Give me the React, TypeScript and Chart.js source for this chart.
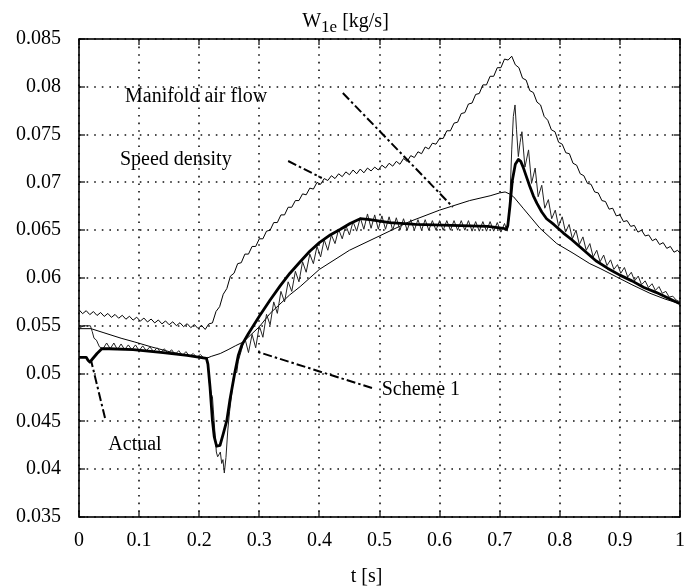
import React, { useEffect, useRef } from 'react';
import { Chart, registerables } from 'chart.js';

Chart.register(...registerables);

// ---------------- axis ticks ----------------
const xTicks = [0, 0.1, 0.2, 0.3, 0.4, 0.5, 0.6, 0.7, 0.8, 0.9, 1];
const xTickLabels = ['0', '0.1', '0.2', '0.3', '0.4', '0.5', '0.6', '0.7', '0.8', '0.9', '1'];
const yTicks = [0.035, 0.04, 0.045, 0.05, 0.055, 0.06, 0.065, 0.07, 0.075, 0.08, 0.085];
const yTickLabels = ['0.035', '0.04', '0.045', '0.05', '0.055', '0.06', '0.065', '0.07', '0.075', '0.08', '0.085'];

// ---------------- series ----------------
// Speed density: sampled every 0.006 s (last sample at t = 1)
const speedDensityStep = 0.006;
const speedDensity = [
  0.05668, 0.05627, 0.05658, 0.05617, 0.05649, 0.05608, 0.05639, 0.05598, 0.05629, 0.05588,
  0.05619, 0.05579, 0.05610, 0.05569, 0.05600, 0.05559, 0.05590, 0.05549, 0.05581, 0.05540,
  0.05571, 0.05530, 0.05561, 0.05520, 0.05551, 0.05511, 0.05542, 0.05501, 0.05532, 0.05491,
  0.05522, 0.05481, 0.05513, 0.05472, 0.05503, 0.05462,
  0.0552, 0.0553, 0.0565, 0.0570, 0.0583, 0.0589, 0.0602, 0.0605, 0.0615, 0.0616,
  0.0625, 0.0625, 0.0633, 0.0633, 0.0641, 0.0641, 0.0649, 0.0650, 0.0658, 0.0658,
  0.0666, 0.0666, 0.0674, 0.0674, 0.0681, 0.0681, 0.0688, 0.0687, 0.0694, 0.0693,
  0.0700, 0.0698, 0.0704, 0.0702, 0.0707, 0.0704, 0.0709, 0.0706, 0.0711, 0.0708,
  0.0713, 0.0709, 0.0714, 0.0710, 0.0715, 0.0712, 0.0716, 0.0713, 0.0718, 0.0715,
  0.0720, 0.0717, 0.0722, 0.0719, 0.0725, 0.0722, 0.0728, 0.0726, 0.0732, 0.0730,
  0.0737, 0.0735, 0.0741, 0.0740, 0.0746, 0.0746, 0.0754, 0.0754, 0.0762, 0.0763,
  0.0772, 0.0773, 0.0782, 0.0783, 0.0792, 0.0793, 0.0802, 0.0802, 0.0811, 0.0811,
  0.0820, 0.0820, 0.0829, 0.0828, 0.0832, 0.0823, 0.0820, 0.0809, 0.0807, 0.0796,
  0.0794, 0.0784, 0.0781, 0.0769, 0.0765, 0.0755, 0.0753, 0.0742, 0.0740, 0.0731,
  0.0730, 0.0720, 0.0718, 0.0709, 0.0707, 0.0699, 0.0698, 0.0690, 0.0689, 0.0681,
  0.0680, 0.0672, 0.0673, 0.0665, 0.0666, 0.0659, 0.0660, 0.0654, 0.0655, 0.0648,
  0.0650, 0.0644, 0.0645, 0.0639, 0.0641, 0.0635, 0.0637, 0.0631, 0.0633, 0.0627,
  0.0629, 0.0626,
];

// Manifold air flow [t, W]
const manifoldAirFlow: [number, number][] = [
  [0, 0.0547], [0.02, 0.0547], [0.04, 0.0543], [0.07, 0.0537], [0.093, 0.0533], [0.12, 0.0528],
  [0.15, 0.0523], [0.18, 0.0519], [0.2, 0.0517], [0.212, 0.0516], [0.22, 0.0518], [0.235, 0.0521],
  [0.248, 0.0525], [0.26, 0.0529], [0.273, 0.0533], [0.285, 0.054], [0.3, 0.0549], [0.318, 0.0563],
  [0.35, 0.0582], [0.368, 0.0591], [0.4, 0.0609], [0.45, 0.0629], [0.5, 0.0644], [0.55, 0.0659],
  [0.6, 0.0671], [0.62, 0.0675], [0.65, 0.0681], [0.684, 0.0686], [0.7, 0.0689], [0.709, 0.069],
  [0.716, 0.0688], [0.723, 0.0685], [0.739, 0.0673], [0.767, 0.0652], [0.795, 0.0636], [0.822, 0.0626],
  [0.85, 0.0615], [0.867, 0.061], [0.895, 0.0601], [0.92, 0.0593], [0.95, 0.0584], [0.975, 0.0578],
  [1.0, 0.0573],
];

// Scheme 1 [t, W]
const scheme1: [number, number][] = [
  [0, 0.0546], [0.004, 0.0549], [0.008, 0.055], [0.019, 0.055], [0.022, 0.0544], [0.025, 0.0537],
  [0.029, 0.0535], [0.034, 0.0528], [0.04, 0.0526],
  [0.046, 0.0532], [0.052, 0.0526], [0.058, 0.0532], [0.064, 0.0525], [0.07, 0.0531], [0.076, 0.0525],
  [0.082, 0.053], [0.088, 0.0525], [0.094, 0.053], [0.1, 0.0524], [0.106, 0.0529], [0.112, 0.0524],
  [0.118, 0.0528], [0.124, 0.0523], [0.13, 0.0527], [0.136, 0.0522], [0.142, 0.0526], [0.148, 0.0521],
  [0.154, 0.0525], [0.16, 0.052], [0.166, 0.0524], [0.172, 0.0519], [0.178, 0.0523], [0.184, 0.0518],
  [0.19, 0.0521], [0.196, 0.0517], [0.202, 0.052], [0.208, 0.0516], [0.2135, 0.0517],
  [0.217, 0.049], [0.2205, 0.0478], [0.222, 0.0476], [0.2235, 0.0462], [0.226, 0.044], [0.2285, 0.0418],
  [0.2307, 0.0413], [0.2335, 0.0416], [0.2352, 0.0418], [0.2374, 0.0406], [0.2395, 0.041], [0.2418, 0.0396],
  [0.2445, 0.0412], [0.2475, 0.044], [0.2505, 0.046], [0.254, 0.0478], [0.257, 0.0496], [0.26, 0.0502],
  [0.2625, 0.0501], [0.265, 0.0513], [0.27, 0.0524],
  [0.276, 0.0537], [0.282, 0.0522], [0.288, 0.0541], [0.294, 0.0527], [0.3, 0.055], [0.306, 0.0538],
  [0.312, 0.0562], [0.318, 0.0551], [0.324, 0.0575], [0.33, 0.0563], [0.336, 0.0586], [0.342, 0.0575],
  [0.348, 0.0596], [0.354, 0.0586], [0.36, 0.0607], [0.366, 0.0596], [0.372, 0.0617], [0.378, 0.0606],
  [0.384, 0.0625], [0.39, 0.0615], [0.396, 0.0633], [0.402, 0.0622], [0.408, 0.064], [0.414, 0.0629],
  [0.42, 0.0645], [0.426, 0.0636], [0.432, 0.0651], [0.438, 0.0641], [0.444, 0.0655], [0.45, 0.0645],
  [0.456, 0.0659], [0.462, 0.0649], [0.468, 0.0663], [0.474, 0.0651],
  [0.48, 0.0667], [0.486, 0.0652], [0.492, 0.0666], [0.498, 0.0651], [0.504, 0.0665], [0.51, 0.0651],
  [0.516, 0.0664], [0.522, 0.065], [0.528, 0.0663], [0.534, 0.065], [0.54, 0.0662], [0.546, 0.065],
  [0.552, 0.0661], [0.558, 0.065], [0.564, 0.0661], [0.57, 0.065], [0.576, 0.0661], [0.582, 0.065],
  [0.588, 0.066], [0.594, 0.065], [0.6, 0.066], [0.606, 0.065], [0.612, 0.066], [0.618, 0.065],
  [0.624, 0.066], [0.63, 0.065], [0.636, 0.066], [0.642, 0.065], [0.648, 0.066], [0.654, 0.0649],
  [0.66, 0.0659], [0.666, 0.0649], [0.672, 0.0659], [0.678, 0.0649], [0.684, 0.0659], [0.69, 0.0649],
  [0.696, 0.0658], [0.702, 0.0648], [0.708, 0.0657], [0.7125, 0.0649],
  [0.715, 0.066], [0.717, 0.0682], [0.72, 0.0734], [0.7227, 0.0769], [0.7255, 0.0781], [0.728, 0.0755],
  [0.731, 0.0727], [0.734, 0.0742], [0.737, 0.0753], [0.742, 0.0716], [0.748, 0.0734], [0.753, 0.0699],
  [0.759, 0.0715], [0.764, 0.0685], [0.77, 0.0697], [0.775, 0.0673], [0.781, 0.0682], [0.7865, 0.0662],
  [0.7925, 0.0671], [0.798, 0.0654], [0.804, 0.0664], [0.8095, 0.0648], [0.8155, 0.0656], [0.821, 0.0641],
  [0.827, 0.065], [0.8325, 0.0635], [0.8385, 0.0643], [0.844, 0.0629], [0.85, 0.0636], [0.8555, 0.0622],
  [0.8615, 0.0629], [0.867, 0.0617], [0.873, 0.0624], [0.8785, 0.0613], [0.8845, 0.0619], [0.89, 0.0609],
  [0.896, 0.0614], [0.9015, 0.0605], [0.9075, 0.0611], [0.913, 0.0601], [0.919, 0.0606], [0.9245, 0.0597],
  [0.9305, 0.0602], [0.936, 0.0593], [0.942, 0.0597], [0.9475, 0.059], [0.9535, 0.0594], [0.959, 0.0587],
  [0.965, 0.0591], [0.9705, 0.0584], [0.9765, 0.0586], [0.982, 0.058], [0.988, 0.0581], [0.9935, 0.0577],
  [1.0, 0.0575],
];

// Actual [t, W]
const actual: [number, number][] = [
  [0, 0.0517], [0.012, 0.0517], [0.015, 0.0514], [0.018, 0.0512], [0.022, 0.0515], [0.03, 0.0521],
  [0.038, 0.0526], [0.05, 0.0526], [0.09, 0.0525], [0.14, 0.0522], [0.18, 0.0519], [0.212, 0.0516],
  [0.2145, 0.051], [0.218, 0.0486], [0.222, 0.0451], [0.225, 0.0434], [0.229, 0.0424], [0.2346, 0.0425],
  [0.24, 0.0437], [0.246, 0.0451], [0.251, 0.0472], [0.259, 0.05], [0.265, 0.0519], [0.271, 0.053],
  [0.282, 0.0542], [0.3, 0.056], [0.318, 0.0577], [0.335, 0.0592], [0.351, 0.0605], [0.368, 0.0617],
  [0.384, 0.0628], [0.4, 0.0637], [0.418, 0.0645], [0.435, 0.0651], [0.451, 0.0657], [0.468, 0.0662],
  [0.484, 0.0661], [0.517, 0.0658], [0.56, 0.0656], [0.62, 0.0655], [0.68, 0.0654], [0.706, 0.0652],
  [0.711, 0.0651], [0.7135, 0.0655], [0.717, 0.0675], [0.721, 0.0702], [0.726, 0.0719], [0.731, 0.0724],
  [0.735, 0.0722], [0.739, 0.0716], [0.745, 0.0705], [0.75, 0.0696], [0.756, 0.0686], [0.762, 0.0678],
  [0.77, 0.0669], [0.778, 0.0662], [0.79, 0.0656], [0.806, 0.0647], [0.82, 0.064], [0.84, 0.0629],
  [0.86, 0.0618], [0.88, 0.061], [0.9, 0.0603], [0.92, 0.0597], [0.94, 0.059], [0.96, 0.0585],
  [0.98, 0.0579], [1.0, 0.0573],
];

// ---------------- annotations (text anchor = left baseline, in data units) ----------------
const annotationTexts = ['Manifold air flow', 'Speed density', 'Scheme 1', 'Actual'];
const annotationAnchors: [number, number][] = [[0.0765, 0.07836], [0.0682, 0.07177], [0.5037, 0.04776], [0.0488, 0.042]];
const leaderLines: [number, number][][] = [
  [[0.439, 0.07935], [0.622, 0.06743]],
  [[0.348, 0.07224], [0.404, 0.07046]],
  [[0.4875, 0.04849], [0.298, 0.05226]],
  [[0.0433, 0.04536], [0.02, 0.0514]],
];

const FONT = '"Liberation Serif", "Times New Roman", serif';

const toXY = (arr: [number, number][]) => arr.map(([x, y]) => ({ x, y }));

const decorPlugin = {
  id: 'decor',
  beforeDatasetsDraw(chart: any) {
    // dotted grid
    const { ctx, chartArea, scales } = chart;
    const { left, right, top, bottom } = chartArea;
    ctx.save();
    ctx.strokeStyle = '#111';
    ctx.lineWidth = 1.6;
    ctx.setLineDash([1.6, 6]);
    xTicks.forEach((v) => {
      const px = Math.round(scales.x.getPixelForValue(v));
      ctx.beginPath();
      ctx.moveTo(px, top);
      ctx.lineTo(px, bottom);
      ctx.stroke();
    });
    yTicks.forEach((v) => {
      const py = Math.round(scales.y.getPixelForValue(v));
      ctx.beginPath();
      ctx.moveTo(left, py);
      ctx.lineTo(right, py);
      ctx.stroke();
    });
    ctx.restore();
  },
  afterDraw(chart: any) {
    const { ctx, chartArea, scales } = chart;
    const { left, right, top, bottom } = chartArea;
    const xs = scales.x;
    const ys = scales.y;
    ctx.save();
    ctx.setLineDash([]);
    ctx.strokeStyle = '#000';
    // inward ticks
    ctx.lineWidth = 1.2;
    const seg = (a: number, b: number, c: number, d: number) => {
      ctx.beginPath();
      ctx.moveTo(a, b);
      ctx.lineTo(c, d);
      ctx.stroke();
    };
    xTicks.forEach((v) => {
      const px = Math.round(xs.getPixelForValue(v));
      seg(px, bottom, px, bottom - 6);
      seg(px, top, px, top + 6);
    });
    yTicks.forEach((v) => {
      const py = Math.round(ys.getPixelForValue(v));
      seg(left, py, left + 6, py);
      seg(right, py, right - 6, py);
    });
    // frame
    ctx.lineWidth = 1.6;
    ctx.strokeRect(left, top, right - left, bottom - top);

    // annotation texts
    ctx.fillStyle = '#000';
    ctx.textAlign = 'left';
    ctx.textBaseline = 'alphabetic';
    ctx.font = `20px ${FONT}`;
    annotationTexts.forEach((t, i) => {
      const [ax, ay] = annotationAnchors[i];
      ctx.fillText(t, xs.getPixelForValue(ax), ys.getPixelForValue(ay));
    });

    // title  W_1e [kg/s]
    const mainFont = `20px ${FONT}`;
    const subFont = `17px ${FONT}`;
    ctx.font = mainFont;
    const wW = ctx.measureText('W').width;
    const wRest = ctx.measureText(' [kg/s]').width;
    ctx.font = subFont;
    const wSub = ctx.measureText('1e').width;
    const total = wW + wSub + wRest;
    let tx = 345.5 - total / 2;
    const tb = 27;
    ctx.font = mainFont;
    ctx.fillText('W', tx, tb);
    tx += wW;
    ctx.font = subFont;
    ctx.fillText('1e', tx, tb + 5);
    tx += wSub;
    ctx.font = mainFont;
    ctx.fillText(' [kg/s]', tx, tb);

    // x axis title
    ctx.textAlign = 'center';
    ctx.fillText('t [s]', 366.5, 582);
    ctx.restore();
  },
};

export default function App() {
  const ref = useRef<HTMLCanvasElement | null>(null);

  useEffect(() => {
    if (!ref.current) return;
    Chart.defaults.font.family = FONT;
    Chart.defaults.font.size = 20;
    Chart.defaults.color = '#000';

    const sdData = speedDensity.map((v, k) => ({ x: Math.min(k * speedDensityStep, 1), y: v }));

    const leaderSets = leaderLines.map((pts) => ({
      data: toXY(pts),
      borderColor: '#000',
      borderWidth: 2,
      borderDash: [9, 3, 2.5, 3],
      pointRadius: 0,
      tension: 0,
      fill: false,
    }));

    const chart = new Chart(ref.current, {
      type: 'line',
      data: {
        datasets: [
          ...leaderSets,
          {
            label: 'Actual',
            data: toXY(actual),
            borderColor: '#000',
            borderWidth: 2.8,
            borderJoinStyle: 'round',
            pointRadius: 0,
            tension: 0,
            fill: false,
          },
          {
            label: 'Scheme 1',
            data: toXY(scheme1),
            borderColor: '#222',
            borderWidth: 1,
            pointRadius: 0,
            tension: 0,
            fill: false,
          },
          {
            label: 'Manifold air flow',
            data: toXY(manifoldAirFlow),
            borderColor: '#000',
            borderWidth: 1,
            pointRadius: 0,
            tension: 0,
            fill: false,
          },
          {
            label: 'Speed density',
            data: sdData,
            borderColor: '#000',
            borderWidth: 1,
            pointRadius: 0,
            tension: 0,
            fill: false,
          },
        ] as any,
      },
      options: {
        animation: false,
        responsive: false,
        devicePixelRatio: 1,
        events: [],
        layout: { padding: { top: 39, right: 19, left: 0, bottom: 0 } },
        plugins: { legend: { display: false }, tooltip: { enabled: false }, title: { display: false } },
        scales: {
          x: {
            type: 'linear',
            min: 0,
            max: 1,
            afterBuildTicks: (scale: any) => {
              scale.ticks = xTicks.map((v) => ({ value: v }));
            },
            afterFit: (scale: any) => {
              scale.height = 69;
            },
            ticks: {
              padding: 12,
              maxRotation: 0,
              autoSkip: false,
              color: '#000',
              font: { size: 20, family: FONT },
              callback: (_v: any, i: number) => xTickLabels[i],
            },
            grid: { display: false, drawTicks: false },
            border: { display: false },
          },
          y: {
            type: 'linear',
            min: 0.035,
            max: 0.085,
            afterBuildTicks: (scale: any) => {
              scale.ticks = yTicks.map((v) => ({ value: v }));
            },
            afterFit: (scale: any) => {
              scale.width = 79;
            },
            ticks: {
              padding: 18,
              autoSkip: false,
              color: '#000',
              font: { size: 20, family: FONT },
              callback: (_v: any, i: number) => yTickLabels[i],
            },
            grid: { display: false, drawTicks: false },
            border: { display: false },
          },
        },
      } as any,
      plugins: [decorPlugin],
    });
    return () => chart.destroy();
  }, []);

  return (
    <div style={{ position: 'fixed', left: 0, top: 0, width: 699, height: 586, background: '#fff' }}>
      <canvas ref={ref} width={699} height={586} style={{ display: 'block', width: 699, height: 586 }} />
    </div>
  );
}
